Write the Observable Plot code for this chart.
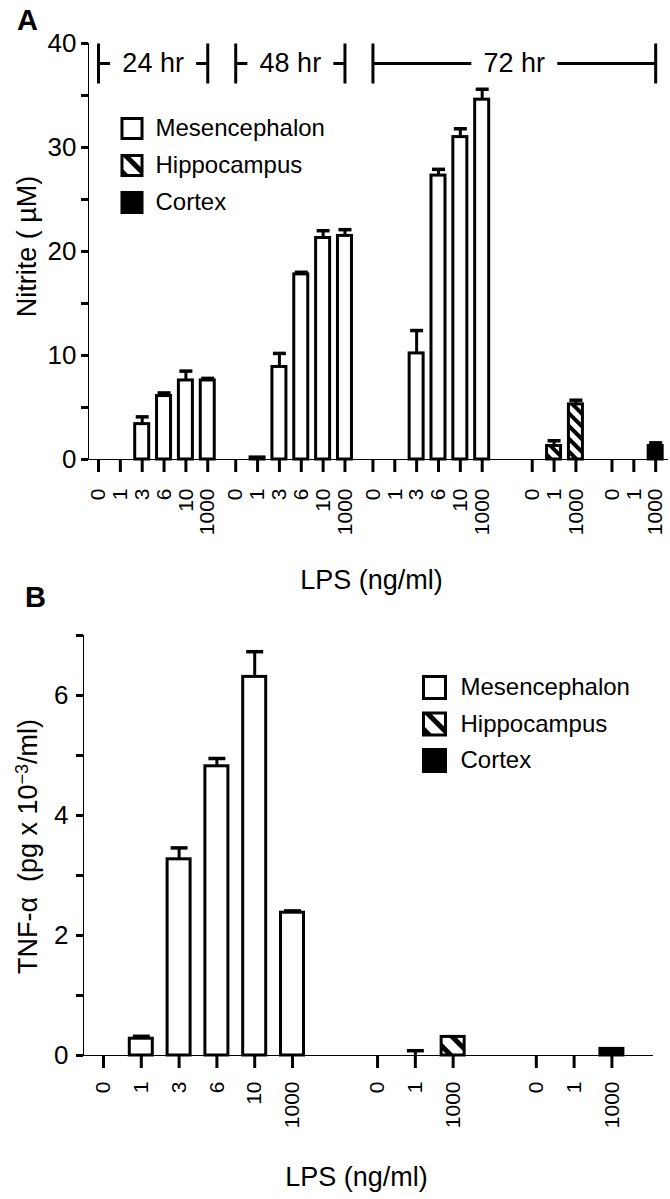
<!DOCTYPE html>
<html>
<head>
<meta charset="utf-8">
<script src="https://cdn.jsdelivr.net/npm/d3@7"></script>
<script src="https://cdn.jsdelivr.net/npm/@observablehq/plot@0.6"></script>
<style>
  body { margin: 0; background: #fff; }
  #chart svg { display: block; overflow: visible; }
  #chart svg [aria-label^="x-axis"] text { font-size: 21px !important; fill: black; }
  #chart svg [aria-label^="y-axis"] text { font-size: 26px !important; fill: black; }
</style>
</head>
<body>
<div id="chart"></div>
<script>
// ---------------- DATA ----------------
const lpsDosesMes = ["0", "1", "3", "6", "10", "1000"];
const lpsDosesRegion = ["0", "1", "1000"];
const regions = ["Mesencephalon", "Hippocampus", "Cortex"];
const timeLabels = ["24 hr", "48 hr", "72 hr"];

// Panel A: nitrite (µM), mean and SEM (upper error only)
const nitriteMes24 = [0, 0, 3.4, 6.1, 7.6, 7.6];
const nitriteMes24Sem = [0, 0, 0.7, 0.3, 0.9, 0.2];
const nitriteMes48 = [0, 0.2, 8.9, 17.8, 21.3, 21.5];
const nitriteMes48Sem = [0, 0, 1.3, 0.2, 0.7, 0.6];
const nitriteMes72 = [0, 0, 10.2, 27.3, 31.0, 34.6];
const nitriteMes72Sem = [0, 0, 2.2, 0.6, 0.8, 1.0];
const nitriteHippo72 = [0, 1.3, 5.3];
const nitriteHippo72Sem = [0, 0.5, 0.4];
const nitriteCortex72 = [0, 0, 1.3];
const nitriteCortex72Sem = [0, 0, 0.3];

// Panel B: TNF-alpha (pg x 10^-3/ml), mean and SEM
const tnfMes = [0, 0.28, 3.27, 4.82, 6.31, 2.38];
const tnfMesSem = [0, 0.04, 0.19, 0.13, 0.42, 0.03];
const tnfHippo = [0, 0, 0.31];
const tnfHippoSem = [0, 0.08, 0];
const tnfCortex = [0, 0, 0.11];
const tnfCortexSem = [0, 0, 0];

const nitriteTicks = [0, 5, 10, 15, 20, 25, 30, 35, 40];
const nitriteTickLabels = [0, 10, 20, 30, 40];
const tnfTicks = [0, 1, 2, 3, 4, 5, 6, 7];
const tnfTickLabels = [0, 2, 4, 6];

const xTitle = "LPS (ng/ml)";
const yTitleA = "Nitrite ( µM)";
const yTitleB = "TNF-α\u00a0\u00a0(pg x 10−3/ml)";

// ---------------- LAYOUT ----------------
const FONT = "'Liberation Sans', Arial, Helvetica, sans-serif";
const fills = {Mesencephalon: "white", Cortex: "black"};

function buildTable(groups, gaps) {
  const rows = [];
  let pos = 0;
  groups.forEach((g, gi) => {
    pos += gaps[gi];
    g.doses.forEach((d, i) => rows.push({group: gi, region: g.region, dose: d, pos: pos + i, value: g.values[i], sem: g.sem[i]}));
    pos += g.doses.length - 1;
  });
  return rows;
}

function addHatch(svg, id, period, black) {
  const defs = d3.select(svg).insert("defs", ":first-child");
  const p = defs.append("pattern").attr("id", id).attr("patternUnits", "userSpaceOnUse")
    .attr("width", period).attr("height", period).attr("patternTransform", "rotate(-45)");
  p.append("rect").attr("width", period).attr("height", period).attr("fill", "white");
  p.append("rect").attr("width", black).attr("height", period).attr("fill", "black");
}

function styleAxes(svg) {
  const s = d3.select(svg);
  s.selectAll('g[aria-label^="x-axis"], g[aria-label^="y-axis"]').selectAll("path, line")
    .attr("stroke-width", 3).attr("stroke", "black").attr("stroke-opacity", 1);
}

function barMarks(rows, half, cap, hatchId) {
  const marks = [];
  regions.forEach(r => {
    marks.push(Plot.rect(rows.filter(d => d.region === r && d.value > 0), {
      x1: d => d.pos - half, x2: d => d.pos + half, y1: 0, y2: "value",
      fill: r === "Hippocampus" ? `url(#${hatchId})` : fills[r], stroke: "black", strokeWidth: 3
    }));
  });
  const errs = rows.filter(d => d.sem > 0);
  marks.push(Plot.link(errs, {x1: "pos", x2: "pos", y1: "value", y2: d => d.value + d.sem, stroke: "black", strokeWidth: 3}));
  marks.push(Plot.link(errs, {x1: d => d.pos - cap, x2: d => d.pos + cap, y1: d => d.value + d.sem, y2: d => d.value + d.sem, stroke: "black", strokeWidth: 3.5}));
  return marks;
}

function legendMarks(dx, dy0, gap, r, textDx, hatchId) {
  const marks = [];
  regions.forEach((name, i) => {
    marks.push(Plot.dot([name], {frameAnchor: "top-left", dx: dx, dy: dy0 + i * gap, symbol: "square", r: r,
      fill: name === "Hippocampus" ? `url(#${hatchId})` : fills[name], stroke: "black", strokeWidth: 3}));
    marks.push(Plot.text([name], {frameAnchor: "top-left", dx: textDx, dy: dy0 + i * gap, text: d => d,
      textAnchor: "start", lineAnchor: "middle", fontSize: 24, fill: "black"}));
  });
  return marks;
}

const chart = document.getElementById("chart");

// ---------------- PANEL A ----------------
const groupsA = [
  {region: "Mesencephalon", doses: lpsDosesMes, values: nitriteMes24, sem: nitriteMes24Sem},
  {region: "Mesencephalon", doses: lpsDosesMes, values: nitriteMes48, sem: nitriteMes48Sem},
  {region: "Mesencephalon", doses: lpsDosesMes, values: nitriteMes72, sem: nitriteMes72Sem},
  {region: "Hippocampus", doses: lpsDosesRegion, values: nitriteHippo72, sem: nitriteHippo72Sem},
  {region: "Cortex", doses: lpsDosesRegion, values: nitriteCortex72, sem: nitriteCortex72Sem}
];
const rowsA = buildTable(groupsA, [0, 1.28, 1.28, 2.29, 1.65]);
const stepA = 21.85;
const loA = -10 / stepA;
const xDomA = [loA, loA + 579 / stepA];
const labelA = new Map(rowsA.map(d => [d.pos, d.dose]));
const yMaxA = 40;
const pxA = yMaxA / 416; // data units per pixel
const bracketGroups = [[0], [1], [2, 3, 4]];
const brackets = timeLabels.map((t, i) => {
  const ps = rowsA.filter(d => bracketGroups[i].includes(d.group)).map(d => d.pos);
  return {label: t, x1: d3.min(ps), x2: d3.max(ps), c: (d3.min(ps) + d3.max(ps)) / 2};
});
const bTop = yMaxA, bBot = yMaxA - 40 * pxA, bMid = yMaxA - 20 * pxA;
const textGap = 43 / stepA;

const plotA = Plot.plot({
  width: 670, height: 588,
  marginLeft: 88, marginRight: 3, marginTop: 43, marginBottom: 129,
  style: {fontFamily: FONT, fontSize: "21px", color: "black", background: "transparent", overflow: "visible"},
  x: {domain: xDomA, ticks: rowsA.map(d => d.pos), tickFormat: p => labelA.get(p), tickRotate: -90,
      tickSize: 13, tickPadding: 16, line: true, label: null},
  y: {domain: [0, yMaxA], ticks: nitriteTicks, tickFormat: d => nitriteTickLabels.includes(d) ? String(d) : "",
      tickSize: 7, tickPadding: 5, line: true, label: null},
  marks: [
    ...barMarks(rowsA, 7 / stepA, 6.5 / stepA, "hatchA"),
    // time brackets
    Plot.link(brackets, {x1: "x1", x2: "x1", y1: bTop, y2: bBot, stroke: "black", strokeWidth: 3}),
    Plot.link(brackets, {x1: "x2", x2: "x2", y1: bTop, y2: bBot, stroke: "black", strokeWidth: 3}),
    Plot.link(brackets, {x1: "x1", x2: d => d.c - textGap, y1: bMid, y2: bMid, stroke: "black", strokeWidth: 3}),
    Plot.link(brackets, {x1: d => d.c + textGap, x2: "x2", y1: bMid, y2: bMid, stroke: "black", strokeWidth: 3}),
    Plot.text(brackets, {x: "c", y: bMid, text: "label", fontSize: 27, fill: "black"}),
    ...legendMarks(43.5, 85, 37, 11.3, 67, "hatchLegA"),
    Plot.text(["A"], {frameAnchor: "top-left", dx: -61, dy: -23, text: d => d, textAnchor: "middle", lineAnchor: "middle",
      fontSize: 29, fontWeight: "bold", fill: "black"}),
    Plot.text([yTitleA], {frameAnchor: "left", dx: -61, dy: -5, rotate: -90, text: d => d, textAnchor: "middle", lineAnchor: "middle",
      fontSize: 27, fill: "black"}),
    Plot.text([xTitle], {frameAnchor: "bottom", dx: -6.5, dy: 121, text: d => d, textAnchor: "middle", lineAnchor: "middle",
      fontSize: 27, fill: "black"})
  ]
});
addHatch(plotA, "hatchA", 9, 4);
addHatch(plotA, "hatchLegA", 14, 5);
styleAxes(plotA);
chart.appendChild(plotA);

// ---------------- PANEL B ----------------
const groupsB = [
  {region: "Mesencephalon", doses: lpsDosesMes, values: tnfMes, sem: tnfMesSem},
  {region: "Hippocampus", doses: lpsDosesRegion, values: tnfHippo, sem: tnfHippoSem},
  {region: "Cortex", doses: lpsDosesRegion, values: tnfCortex, sem: tnfCortexSem}
];
const rowsB = buildTable(groupsB, [0, 2.25, 2.2]);
const stepB = 37.8;
const loB = -20 / stepB;
const xDomB = [loB, loB + 569 / stepB];
const labelB = new Map(rowsB.map(d => [d.pos, d.dose]));

const plotB = Plot.plot({
  width: 670, height: 611,
  marginLeft: 83, marginRight: 18, marginTop: 47, marginBottom: 144,
  style: {fontFamily: FONT, fontSize: "21px", color: "black", background: "transparent", overflow: "visible"},
  x: {domain: xDomB, ticks: rowsB.map(d => d.pos), tickFormat: p => labelB.get(p), tickRotate: -90,
      tickSize: 13, tickPadding: 13, line: true, label: null},
  y: {domain: [0, 7], ticks: tnfTicks, tickFormat: d => tnfTickLabels.includes(d) ? String(d) : "",
      tickSize: 7, tickPadding: 8, line: true, label: null},
  marks: [
    ...barMarks(rowsB, 11.5 / stepB, 8.5 / stepB, "hatchB"),
    ...legendMarks(351, 52, 36.5, 12.4, 377, "hatchLegB"),
    Plot.text(["B"], {frameAnchor: "top-left", dx: -48, dy: -37.5, text: d => d, textAnchor: "middle", lineAnchor: "middle",
      fontSize: 29, fontWeight: "bold", fill: "black"}),
    Plot.text([yTitleB], {frameAnchor: "left", dx: -55, dy: 1, rotate: -90, text: d => d, textAnchor: "middle", lineAnchor: "middle",
      fontSize: 27, fill: "black"}),
    Plot.text([xTitle], {frameAnchor: "bottom", dx: -11.5, dy: 122, text: d => d, textAnchor: "middle", lineAnchor: "middle",
      fontSize: 27, fill: "black"})
  ]
});
addHatch(plotB, "hatchB", 14, 5);
addHatch(plotB, "hatchLegB", 14, 5);
styleAxes(plotB);

// superscript for 10^-3
d3.select(plotB).selectAll("text").each(function() {
  if (this.textContent === yTitleB) {
    const t = d3.select(this);
    t.text(null);
    t.append("tspan").text("TNF-α\u00a0\u00a0(pg x 10");
    t.append("tspan").attr("dy", "-9").attr("font-size", "18px").text("−3");
    t.append("tspan").attr("dy", "9").text("/ml)");
  }
});
chart.appendChild(plotB);
</script>
</body>
</html>
